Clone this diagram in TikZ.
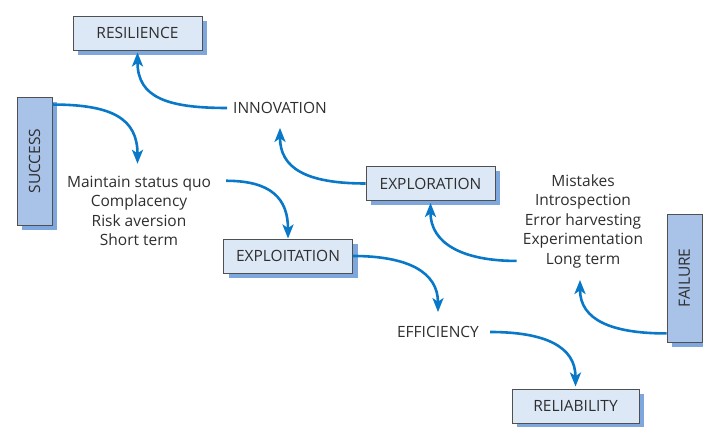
\documentclass[tikz,border=0pt]{standalone}
\usepackage{fontspec}
\setmainfont{Open Sans}
\usepackage{tikz}
\usetikzlibrary{arrows.meta,shadows}

\definecolor{lightbox}{HTML}{DDE8F7}
\definecolor{darkbox}{HTML}{A9C2E8}
\definecolor{shadowblue}{HTML}{7EA7DD}
\definecolor{boxline}{HTML}{505050}
\definecolor{arrowblue}{HTML}{0A78C8}
\definecolor{textgray}{HTML}{2E2E2E}

\tikzset{
    box/.style={draw=boxline, line width=0.9pt, fill=lightbox, text=textgray,
        minimum width=129pt, minimum height=34pt,
        drop shadow={shadow xshift=5pt, shadow yshift=-5pt, opacity=1, fill=shadowblue}},
    sidebox/.style={box, fill=darkbox, minimum width=35pt, minimum height=128pt},
    lbl/.style={align=center, text=textgray, inner sep=6pt},
    arr/.style={draw=arrowblue, line width=2.6pt, -{Stealth[length=14pt,width=11pt,inset=3.5pt]}}
}

\begin{document}
\begin{tikzpicture}[x=1pt,y=1pt,font=\fontsize{15.5}{19.5}\selectfont]
            \useasboundingbox (0,0) rectangle (703,427);

            \node[box] (resil) at (137.5,394) {RESILIENCE};
            \node[sidebox] (success) at (34.5,266) {\rotatebox{90}{SUCCESS}};
            \node[lbl] (innov) at (280,319) {INNOVATION};
            \node[lbl] (quo) at (139,216) {Maintain status quo\\Complacency\\Risk aversion\\Short term};
            \node[box] (explor) at (430.5,243.5) {EXPLORATION};
            \node[box] (exploit) at (288,171) {EXPLOITATION};
            \node[lbl] (mistakes) at (583,206) {Mistakes\\Introspection\\Error harvesting\\Experimentation\\Long term};
            \node[sidebox] (failure) at (684.5,149) {\rotatebox{90}{FAILURE}};
            \node[lbl] (effic) at (438,95) {EFFICIENCY};
            \node[box, minimum width=127pt] (reliab) at (575.5,21) {RELIABILITY};

            \draw[arr] ([yshift=-8pt]success.north east) .. controls +(60,0) and +(0,45) .. ([yshift=6pt]quo.north -| resil.south);
            \draw[arr] (innov.west) .. controls +(-60,0) and +(0,-45) .. ([yshift=-2pt]resil.south);
            \draw[arr] ([xshift=9pt,yshift=-11pt]quo.north east) .. controls +(45,0) and +(0,40) .. (exploit.north);
            \draw[arr] (explor.west) .. controls +(-60,0) and +(0,-40) .. ([yshift=-8pt]innov.south);
            \draw[arr] ([yshift=13pt]mistakes.south west) .. controls +(-55,0) and +(0,-40) .. ([yshift=-2pt]explor.south);
            \draw[arr] (exploit.east) .. controls +(55,0) and +(0,40) .. ([yshift=8pt]effic.north);
            \draw[arr] ([xshift=5pt]effic.east) .. controls +(55,0) and +(0,40) .. ([yshift=2pt]reliab.north);
            \draw[arr] ([yshift=9pt]failure.south west) .. controls +(-55,0) and +(0,-40) .. ([yshift=-6pt]mistakes.south -| 580,0);
        \end{tikzpicture}
\end{document}
